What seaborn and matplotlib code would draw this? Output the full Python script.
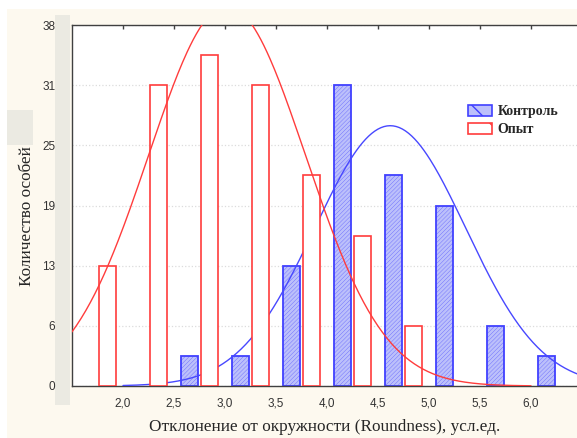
import numpy as np
import pandas as pd
import seaborn as sns
import matplotlib.pyplot as plt
from matplotlib.patches import Patch, Rectangle

# bar centres and heights
control_x = [2.65, 3.15, 3.65, 4.15, 4.65, 5.15, 5.65, 6.15]
control_y = [3.17, 3.17, 12.67, 31.67, 22.17, 19.0, 6.33, 3.17]
exp_x = [1.85, 2.35, 2.85, 3.35, 3.85, 4.35, 4.85]
exp_y = [12.67, 31.67, 34.83, 31.67, 22.17, 15.83, 6.33]

# fitted normal curves (mean, sd, peak height, drawn range)
control_fit = dict(mean=4.62, sd=0.74, peak=27.4, start=2.0, stop=6.5)
exp_fit = dict(mean=3.02, sd=0.77, peak=40.0, start=1.5, stop=6.0)

x_ticks = [2.0, 2.5, 3.0, 3.5, 4.0, 4.5, 5.0, 5.5, 6.0]
x_tick_labels = ['2,0', '2,5', '3,0', '3,5', '4,0', '4,5', '5,0', '5,5', '6,0']
y_tick_labels = ['0', '6', '13', '19', '25', '31', '38']

sns.set_style('white')
plt.rcParams['font.family'] = ['Liberation Sans', 'DejaVu Sans']
plt.rcParams['hatch.linewidth'] = 0.2

blue = '#4040ff'
blue_fill = '#bcc0fb'
red = '#ff3c3c'

fig = plt.figure(figsize=(5.77, 4.38), dpi=100)
fig.patch.set_facecolor('white')
# cream panel and grey strips behind the plot
fig.patches.append(Rectangle((7 / 577, 0), 1, 1 - 9 / 438, transform=fig.transFigure,
                             facecolor='#fdf9ef', edgecolor='none', zorder=-3))
fig.patches.append(Rectangle((55 / 577, 1 - 405 / 438), 15 / 577, 390 / 438,
                             transform=fig.transFigure, facecolor='#ebeae2',
                             edgecolor='none', zorder=-2))
fig.patches.append(Rectangle((7 / 577, 1 - 145 / 438), 26 / 577, 35 / 438,
                             transform=fig.transFigure, facecolor='#ebeae2',
                             edgecolor='none', zorder=-2))

ax = fig.add_axes([72 / 577, 52 / 438, 510 / 577, 361 / 438])
ax.set_facecolor('white')

ctrl = pd.DataFrame({'x': control_x, 'y': control_y})
expd = pd.DataFrame({'x': exp_x, 'y': exp_y})

sns.barplot(data=ctrl, x='x', y='y', native_scale=True, width=0.333,
            errorbar=None, color=blue_fill, ax=ax)
n_ctrl = len(ax.patches)
for p in ax.patches:
    p.set_facecolor(blue_fill)
    p.set_edgecolor(blue)
    p.set_linewidth(1.3)
    p.set_hatch('////////')
    p.set_zorder(2)

cx = np.linspace(control_fit['start'], control_fit['stop'], 300)
cy = control_fit['peak'] * np.exp(-(cx - control_fit['mean']) ** 2 / (2 * control_fit['sd'] ** 2))
sns.lineplot(x=cx, y=cy, color='#4848ff', lw=1.0, ax=ax, zorder=3)

sns.barplot(data=expd, x='x', y='y', native_scale=True, width=0.333,
            errorbar=None, color='white', ax=ax)
for p in ax.patches[n_ctrl:]:
    p.set_facecolor('white')
    p.set_edgecolor(red)
    p.set_linewidth(1.2)
    p.set_zorder(4)

ex = np.linspace(exp_fit['start'], exp_fit['stop'], 300)
ey = exp_fit['peak'] * np.exp(-(ex - exp_fit['mean']) ** 2 / (2 * exp_fit['sd'] ** 2))
sns.lineplot(x=ex, y=ey, color=red, lw=1.0, ax=ax, zorder=5)

ax.set_xlim(1.5, 6.5)
ax.set_ylim(0, 38)
ax.set_xticks(x_ticks)
ax.set_xticklabels(x_tick_labels)
ax.set_yticks(np.linspace(0, 38, len(y_tick_labels)))
ax.set_yticklabels(y_tick_labels)
ax.tick_params(axis='x', direction='in', top=True, length=3, width=1,
               color='#404040', labelsize=8.5, labelcolor='#333333', pad=8)
ax.tick_params(axis='y', length=0, labelsize=8.5, labelcolor='#333333', pad=12)
ax.grid(axis='y', linestyle=':', color='#dcdcdc', lw=0.9)
ax.grid(axis='x', visible=False)
ax.set_axisbelow(True)
for s in ['left', 'bottom', 'top']:
    ax.spines[s].set_color('#404040')
    ax.spines[s].set_linewidth(1.0)
ax.spines['right'].set_visible(False)

ax.set_xlabel('')
ax.set_ylabel('')
fig.text(325 / 577, 1 - 427 / 438, 'Отклонение от окружности (Roundness), усл.ед.',
         ha='center', va='center', fontsize=12.4, family=['Liberation Serif'])
fig.text(27 / 577, 1 - 216 / 438, 'Количество особей', rotation=90,
         ha='center', va='center', fontsize=12.4, family=['Liberation Serif'])

plt.rcParams['hatch.linewidth'] = 1.0
handles = [Patch(facecolor=blue_fill, edgecolor=blue, hatch='\\', lw=1.2, label='Контроль'),
           Patch(facecolor='white', edgecolor=red, hatch='\\', lw=1.2, label='Опыт')]
fig.legend(handles=handles, loc='upper left', bbox_to_anchor=(461 / 577, 1 - 98 / 438),
           frameon=False, handlelength=1.7, handleheight=0.9, handletextpad=0.45,
           labelspacing=0.3, borderpad=0,
           prop={'family': 'Liberation Serif', 'weight': 'bold', 'size': 10})

fig.savefig('out.png', dpi=100)
